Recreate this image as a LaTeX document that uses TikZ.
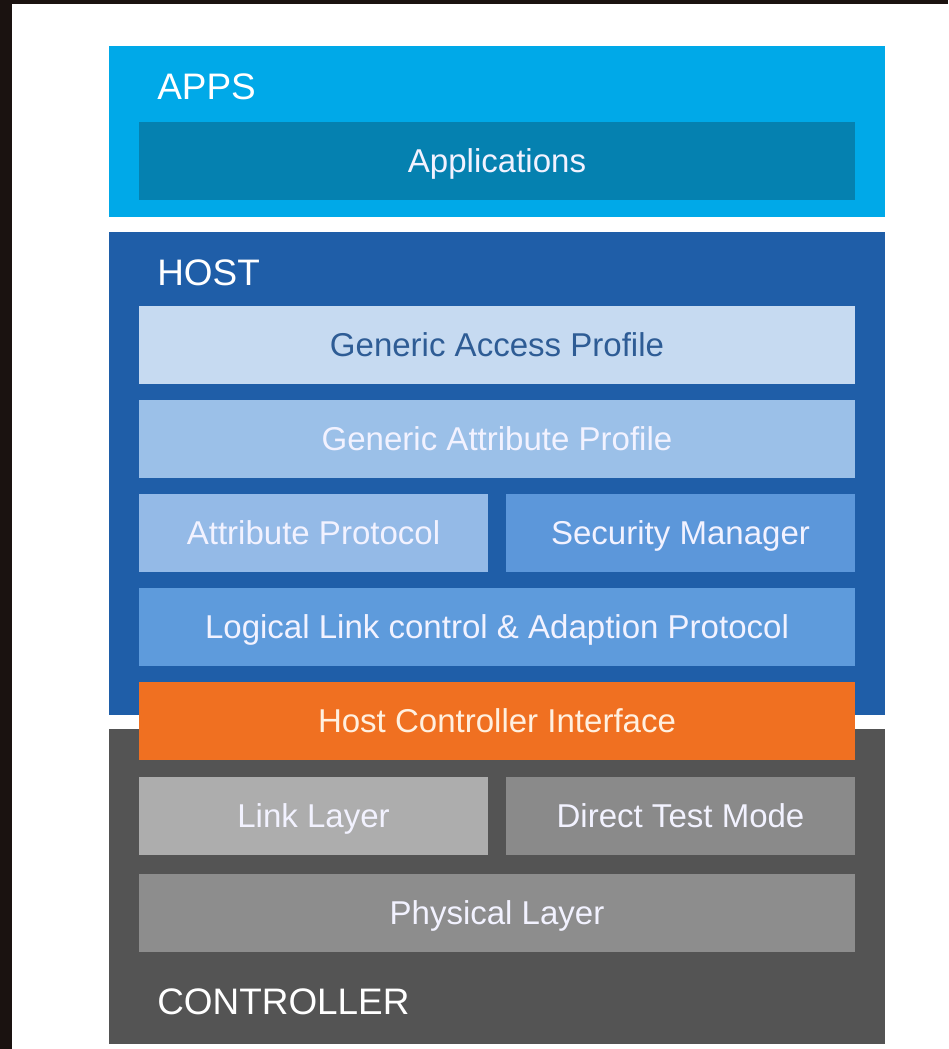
\documentclass[tikz,border=0pt]{standalone}
\usepackage{fontspec}
\setmainfont{Liberation Sans}
\usepackage{tikz}
\usetikzlibrary{positioning}

\definecolor{appsblue}{HTML}{00A9E8}
\definecolor{appdark}{HTML}{0581B0}
\definecolor{hostblue}{HTML}{1F5EA8}
\definecolor{gapblue}{HTML}{C6DAF1}
\definecolor{gattblue}{HTML}{9BC0E8}
\definecolor{attblue}{HTML}{94BAE7}
\definecolor{smblue}{HTML}{5C97DA}
\definecolor{lltblue}{HTML}{5E9BDC}
\definecolor{gaptext}{HTML}{2E5C95}
\definecolor{hciorange}{HTML}{F07021}
\definecolor{ctrlgray}{HTML}{545454}
\definecolor{llgray}{HTML}{ADADAD}
\definecolor{dtmgray}{HTML}{8A8A8A}
\definecolor{phygray}{HTML}{8D8D8D}
\definecolor{photodark}{HTML}{1A1210}

\begin{document}
\begin{tikzpicture}[x=0.02cm, y=-0.02cm,
	        group/.style={rectangle, minimum width=15.52cm, inner sep=0pt, draw=none},
	        layer/.style={rectangle, minimum width=14.32cm, minimum height=1.56cm, inner sep=0pt, text height=13.5pt, text depth=0pt, text=white!95!blue, font=\fontsize{18.8}{22}\selectfont},
	        half/.style={layer, minimum width=6.98cm},
	        title/.style={anchor=west, inner sep=0pt, text height=15pt, text depth=0pt, text=white, font=\fontsize{21}{25}\selectfont}]

	        % Hintergrund
	        \fill[white] (0,0) rectangle (948,1049);
	        \fill[photodark] (0,0) rectangle (12,1049);
	        \fill[photodark] (0,0) rectangle (948,4);

	        % Gruppen
	        \node (apps) [group, fill=appsblue, minimum height=3.42cm] at (497,131.5) {};
	        \node (host) [group, fill=hostblue, minimum height=9.66cm] at (497,473.5) {};
	        \node (ctrl) [group, fill=ctrlgray, minimum height=6.3cm] at (497,886.5) {};

	        \node (appstitle) [title] at (157,86) {APPS};
	        \node (hosttitle) [title] at (157,272) {HOST};
	        \node (ctrltitle) [title] at (157,1001) {CONTROLLER};

	        % Schichten
	        \node (app) [layer, fill=appdark] at (497,161) {Applications};
	        \node (gap) [layer, fill=gapblue, text=gaptext] at (497,345) {Generic Access Profile};
	        \node (gatt) [layer, fill=gattblue] at (497,439) {Generic Attribute Profile};
	        \node (att) [half, fill=attblue] at (313.5,533) {Attribute Protocol};
	        \node (sm) [half, fill=smblue] at (680.5,533) {Security Manager};
	        \node (l2cap) [layer, fill=lltblue] at (497,626.5) {Logical Link control \& Adaption Protocol};
	        \node (hci) [layer, fill=hciorange, text=orange!12!white] at (497,720.5) {Host Controller Interface};
	        \node (ll) [half, fill=llgray] at (313.5,816) {Link Layer};
	        \node (dtm) [half, fill=dtmgray] at (680.5,816) {Direct Test Mode};
	        \node (phy) [layer, fill=phygray] at (497,912.5) {Physical Layer};

	    \end{tikzpicture}
\end{document}
